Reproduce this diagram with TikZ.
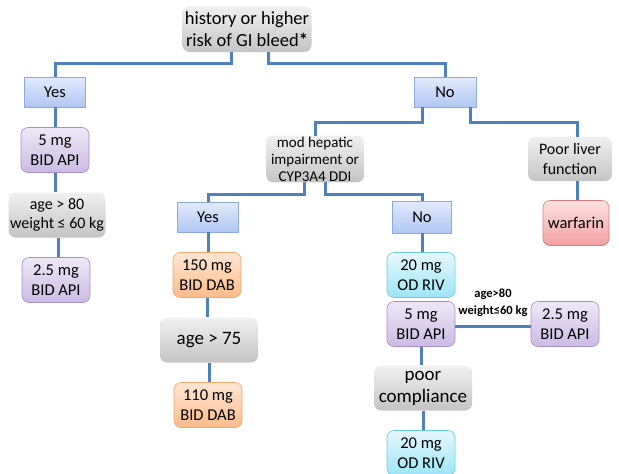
\documentclass[tikz,border=0pt]{standalone}
\usepackage{fontspec}
\setmainfont{Carlito}
\definecolor{linkblue}{HTML}{4F81BD}
\definecolor{ansTop}{HTML}{E2EBFC}
\definecolor{ansBot}{HTML}{AFC7F2}
\definecolor{ansLine}{HTML}{8AAAE0}
\definecolor{apiTop}{HTML}{EEE7F7}
\definecolor{apiBot}{HTML}{CBBBE6}
\definecolor{apiLine}{HTML}{A58ECB}
\definecolor{dabTop}{HTML}{FDE6D3}
\definecolor{dabBot}{HTML}{FBBB8A}
\definecolor{dabLine}{HTML}{F4A66B}
\definecolor{rivTop}{HTML}{E6F8FD}
\definecolor{rivBot}{HTML}{9CE5F8}
\definecolor{rivLine}{HTML}{66CBE6}
\definecolor{warTop}{HTML}{FDE2E2}
\definecolor{warBot}{HTML}{F3A0A0}
\definecolor{warLine}{HTML}{D87C7C}
\definecolor{greyTop}{HTML}{F0F0F0}
\definecolor{greyBot}{HTML}{C4C4C4}
\begin{document}
\begin{tikzpicture}[x=1pt, y=-1pt,
  link/.style={draw=linkblue, line width=3pt},
  box/.style={rounded corners=7pt, align=center, inner sep=1pt, font=\fontsize{16.5}{20}\selectfont},
  greybox/.style={box, top color=greyTop, bottom color=greyBot},
  answer/.style={box, rounded corners=0pt, draw=ansLine, line width=0.6pt,
    top color=ansTop, bottom color=ansBot, minimum height=30pt, minimum width=61pt},
  api/.style={box, draw=apiLine, line width=0.6pt, top color=apiTop, bottom color=apiBot,
    minimum width=68pt, minimum height=45pt},
  dab/.style={box, draw=dabLine, line width=0.6pt, top color=dabTop, bottom color=dabBot,
    minimum width=68pt, minimum height=45pt},
  riv/.style={box, draw=rivLine, line width=0.6pt, top color=rivTop, bottom color=rivBot,
    minimum width=68pt, minimum height=45pt},
  warf/.style={box, draw=warLine, line width=0.6pt, top color=warTop, bottom color=warBot,
    minimum width=66pt, minimum height=45pt}]
  \useasboundingbox (0,0) rectangle (619,474);
  % question at the top
  \node[greybox, minimum width=129pt, minimum height=46pt, font=\fontsize{18.5}{22}\selectfont] (bleed) at (247,29) {history or higher\\risk of GI bleed\textbf{*}};
  \node[answer] (yesL) at (55,92) {Yes};
  \node[answer, minimum width=62pt] (noT) at (445,92) {No};
  % left branch
  \node[api] (apiL1) at (55,150) {5 mg\\BID API};
  \node[greybox, minimum width=97pt, minimum height=45pt, font=\fontsize{16}{19}\selectfont] (ageL) at (57,215) {age > 80\\weight ≤ 60 kg};
  \node[api] (apiL2) at (56,280) {2.5 mg\\BID API};
  % right branch
  \node[greybox, minimum width=98pt, minimum height=44pt, font=\fontsize{15}{17}\selectfont] (hep) at (315,159) {mod hepatic\\impairment or\\CYP3A4 DDI};
  \node[greybox, minimum width=84pt, minimum height=44pt, font=\fontsize{16}{20}\selectfont] (liver) at (570,159) {Poor liver\\function};
  \node[warf] (warfarin) at (576,223) {warfarin};
  \node[answer] (yesM) at (208,217) {Yes};
  \node[answer, minimum width=59pt, minimum height=32pt] (noM) at (422,217) {No};
  \node[dab] (dab1) at (207,275) {150 mg\\BID DAB};
  \node[greybox, minimum width=98pt, minimum height=45pt, font=\fontsize{19}{22}\selectfont] (age75) at (209,340) {age > 75};
  \node[dab] (dab2) at (208,405) {110 mg\\BID DAB};
  \node[riv] (riv1) at (421,275) {20 mg\\OD RIV};
  \node[api] (apiR) at (421,324) {5 mg\\BID API};
  \node[api] (apiR2) at (565,324) {2.5 mg\\BID API};
  \node[greybox, minimum width=98pt, minimum height=45pt, font=\fontsize{19}{22}\selectfont] (poor) at (423,388) {poor\\compliance};
  \node[riv] (riv2) at (421,453) {20 mg\\OD RIV};
  % connectors
  \draw[link] ([xshift=-16pt]bleed.south) -- ++(0,11) -| (yesL.north);
  \draw[link] ([xshift=21pt]bleed.south) -- ++(0,11) -| (noT.north);
  \draw[link] (yesL.south) -- (yesL.south |- apiL1.north);
  \draw[link] (apiL1.south) -- (apiL1.south |- ageL.north);
  \draw[link] ([xshift=1pt]ageL.south) -- ([xshift=1pt]ageL.south |- apiL2.north);
  \draw[link] ([xshift=-23pt]noT.south) -- ++(0,15) -| (hep.north);
  \draw[link] ([xshift=25pt]noT.south) -- ++(0,15) -| ([xshift=7pt]liver.north);
  \draw[link] ([xshift=7pt]liver.south) -- ([xshift=7pt]liver.south |- warfarin.north);
  \draw[link] ([xshift=-11pt]hep.south) -- ++(0,12) -| (yesM.north);
  \draw[link] ([xshift=10pt]hep.south) -- ++(0,12) -| (noM.north);
  \draw[link] (yesM.south) -- (yesM.south |- dab1.north);
  \draw[link] (dab1.south) -- (dab1.south |- age75.north);
  \draw[link] (age75.south) -- (age75.south |- dab2.north);
  \draw[link] (noM.south) -- (noM.south |- riv1.north);
  \draw[link] ([yshift=-2pt]apiR.east) -- node[above=8pt, align=center, inner sep=0pt, font=\fontsize{12.5}{17}\selectfont\bfseries] (cut) {age>80\\weight≤60 kg} ([yshift=-2pt]apiR2.west);
  \draw[link] (apiR.south) -- (apiR.south |- poor.north);
  \draw[link] (poor.south) -- (poor.south |- riv2.north);
\end{tikzpicture}
\end{document}
